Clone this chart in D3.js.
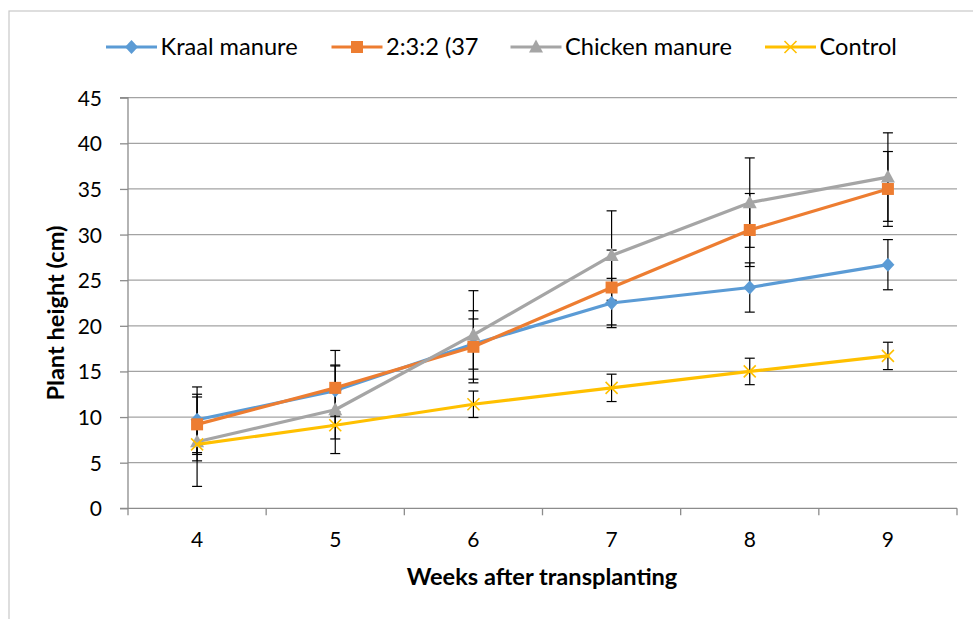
<!DOCTYPE html>
<html>
<head>
<meta charset="utf-8">
<script src="https://cdn.jsdelivr.net/npm/d3@7/dist/d3.min.js"></script>
<style>
  html, body { margin: 0; padding: 0; background: #fff; }
  svg { display: block; }
  text { font-family: Lato, "Open Sans", sans-serif; fill: #000; }
</style>
</head>
<body>
<svg id="chart" width="973" height="619"></svg>
<script>
const weeks = ["4", "5", "6", "7", "8", "9"];
const seriesNames = ["Kraal manure", "2:3:2 (37", "Chicken manure", "Control"];
const kraal   = [9.7, 12.9, 18.0, 22.5, 24.2, 26.7];
const mix     = [9.2, 13.2, 17.7, 24.2, 30.5, 35.0];
const chicken = [7.3, 10.8, 19.0, 27.7, 33.5, 36.3];
const control = [7.0, 9.1, 11.4, 13.2, 15.0, 16.7];
const kraalErr   = [3.6, 2.8, 2.75, 2.7, 2.7, 2.75];
const mixErr     = [3.3, 4.1, 3.95, 4.1, 4.0, 4.1];
const chickenErr = [4.9, 4.8, 4.85, 4.9, 4.9, 4.85];
const controlErr = [1.8, 1.5, 1.45, 1.5, 1.45, 1.5];
const yTicks = [0, 5, 10, 15, 20, 25, 30, 35, 40, 45];
const colors = ["#5B9BD5", "#ED7D31", "#A5A5A5", "#FFC000"];
const markers = ["diamond", "square", "triangle", "x"];

const series = seriesNames.map((name, i) => ({
  name,
  values: [kraal, mix, chicken, control][i],
  errs: [kraalErr, mixErr, chickenErr, controlErr][i],
  color: colors[i],
  marker: markers[i]
}));

const svg = d3.select("#chart");
const pLeft = 128, pRight = 957, pTop = 97.7, pBottom = 508.3;

// chart border
svg.append("rect").attr("x", 9).attr("y", 11).attr("width", 980).attr("height", 640)
  .attr("fill", "none").attr("stroke", "#c8c8c8").attr("stroke-width", 1.2);

const x = d3.scaleBand().domain(weeks).range([pLeft, pRight]).paddingInner(0).paddingOuter(0);
const y = d3.scaleLinear().domain([0, 45]).range([pBottom, pTop]);
const cx = d => x(d) + x.bandwidth() / 2;

// gridlines
svg.append("g").selectAll("line").data(yTicks.filter(t => t > 0)).join("line")
  .attr("x1", pLeft).attr("x2", pRight)
  .attr("y1", d => y(d)).attr("y2", d => y(d))
  .attr("stroke", "#a3a3a3").attr("stroke-width", 1.2);

// y axis
const yAxis = d3.axisLeft(y).tickValues(yTicks).tickSize(8).tickPadding(18).tickFormat(d3.format("d"));
const gy = svg.append("g").attr("transform", `translate(${pLeft},0)`).call(yAxis);
gy.select(".domain").attr("stroke", "#8c8c8c").attr("stroke-width", 1.3).attr("d", `M-8,${pTop}H0V${pBottom}H-8`);
gy.selectAll(".tick line").attr("stroke", "#8c8c8c").attr("stroke-width", 1.3);
gy.selectAll(".tick text").attr("font-size", 21).attr("font-family", "Lato").attr("fill", "#000").attr("dy", "0.36em");

// x axis
const xAxis = d3.axisBottom(x).tickSize(0).tickPadding(24);
const gx = svg.append("g").attr("transform", `translate(0,${pBottom})`).call(xAxis);
gx.select(".domain").attr("stroke", "#8c8c8c").attr("stroke-width", 1.3).attr("d", `M${pLeft},0H${pRight}`);
gx.selectAll(".tick text").attr("font-size", 21).attr("font-family", "Lato").attr("fill", "#000");
// category boundary tick marks
const bounds = weeks.map(w => x(w)).concat([pRight]);
gx.append("g").selectAll("line").data(bounds).join("line")
  .attr("x1", d => d).attr("x2", d => d).attr("y1", 0).attr("y2", 7)
  .attr("stroke", "#8c8c8c").attr("stroke-width", 1.3);

// axis titles
svg.append("text").attr("x", 542).attr("y", 585).attr("text-anchor", "middle")
  .attr("font-size", 23.6).attr("font-weight", "bold").text("Weeks after transplanting");
svg.append("text").attr("transform", "translate(64,313) rotate(-90)").attr("text-anchor", "middle")
  .attr("font-size", 23.6).attr("font-weight", "bold").text("Plant height (cm)");

// error bars
const eb = svg.append("g");
series.forEach(s => {
  const g = eb.append("g");
  weeks.forEach((w, i) => {
    const v = s.values[i], e = s.errs[i];
    const X = cx(w);
    g.append("line").attr("x1", X).attr("x2", X).attr("y1", y(v - e)).attr("y2", y(v + e))
      .attr("stroke", "#000").attr("stroke-width", 1.2);
    [v - e, v + e].forEach(t => g.append("line").attr("x1", X - 5).attr("x2", X + 5)
      .attr("y1", y(t)).attr("y2", y(t)).attr("stroke", "#000").attr("stroke-width", 1.2));
  });
});

// markers
function drawMarker(g, type, X, Y, color) {
  if (type === "diamond") {
    g.append("path").attr("d", `M${X},${Y - 7}L${X + 6.5},${Y}L${X},${Y + 7}L${X - 6.5},${Y}Z`).attr("fill", color);
  } else if (type === "square") {
    g.append("rect").attr("x", X - 6).attr("y", Y - 6).attr("width", 12).attr("height", 12).attr("fill", color);
  } else if (type === "triangle") {
    g.append("path").attr("d", `M${X},${Y - 7.5}L${X + 7},${Y + 5.5}L${X - 7},${Y + 5.5}Z`).attr("fill", color);
  } else if (type === "x") {
    g.append("path").attr("d", `M${X - 6},${Y - 6}L${X + 6},${Y + 6}M${X - 6},${Y + 6}L${X + 6},${Y - 6}`)
      .attr("stroke", color).attr("stroke-width", 1.6).attr("fill", "none");
  }
}

const line = d3.line().x((d, i) => cx(weeks[i])).y(d => y(d));
const lg = svg.append("g");
series.forEach(s => {
  lg.append("path").datum(s.values).attr("d", line).attr("fill", "none")
    .attr("stroke", s.color).attr("stroke-width", 3.2).attr("stroke-linejoin", "round").attr("stroke-linecap", "round");
  s.values.forEach((v, i) => drawMarker(lg, s.marker, cx(weeks[i]), y(v), s.color));
});

// legend (layout positions)
const legendX = [106, 331.5, 510.5, 765];
const ly = 47;
const leg = svg.append("g");
series.forEach((s, i) => {
  const lx = legendX[i];
  const g = leg.append("g");
  g.append("line").attr("x1", lx).attr("x2", lx + 51).attr("y1", ly).attr("y2", ly)
    .attr("stroke", s.color).attr("stroke-width", 3.2);
  drawMarker(g, s.marker, lx + 25.5, ly, s.color);
  g.append("text").attr("x", lx + 54.5).attr("y", ly).attr("dy", "0.36em")
    .attr("font-size", 23.6).text(s.name);
});
</script>
</body>
</html>
